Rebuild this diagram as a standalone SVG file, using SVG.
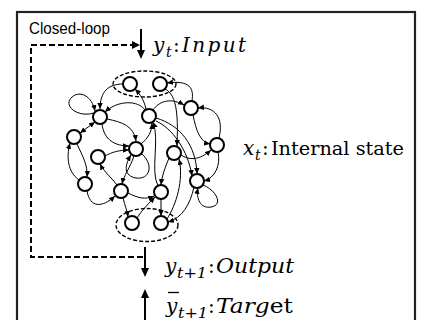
<svg xmlns="http://www.w3.org/2000/svg" width="422" height="320" viewBox="0 0 422 320">
<style>
.node circle{fill:#fff;stroke:#000;stroke-width:2}
.e path{fill:none;stroke:#000;stroke-width:1;marker-end:url(#ah)}
.math{font-family:"DejaVu Serif","Liberation Serif",serif;font-style:italic;fill:#000}
.up{font-family:"DejaVu Serif","Liberation Serif",serif;fill:#000}
.dash{fill:none;stroke:#000;stroke-width:2;stroke-dasharray:6,3}
.ell{fill:none;stroke:#000;stroke-width:1.4;stroke-dasharray:4,2}
</style>
<defs>
<marker id="ah" markerUnits="userSpaceOnUse" markerWidth="6" markerHeight="6" viewBox="0 0 6 6" refX="6" refY="3" orient="auto-start-reverse"><path d="M0,0.3 L6,3 L0,5.7 z" fill="#000"/></marker>
</defs>
<rect x="17" y="12" width="398" height="330" fill="#fff" stroke="#222" stroke-width="2.2"/>
<text x="29" y="34" font-family="Liberation Sans, Arial, sans-serif" font-size="16" textLength="81" lengthAdjust="spacingAndGlyphs">Closed-loop</text>

<g id="loop">
<path class="dash" d="M143,257 L31,257 L31,45 L133,45"/>
<path d="M132,41 L140,45 L132,49 z" fill="#000"/>
</g>
<g id="io-arrows">
<path d="M141,29 L141,52" stroke="#000" stroke-width="2"/><path d="M137,50 L145,50 L141,59 z" fill="#000"/>
<path d="M145,247 L145,270" stroke="#000" stroke-width="2"/><path d="M141,268 L149,268 L145,277 z" fill="#000"/>
<path d="M145,320 L145,296" stroke="#000" stroke-width="2"/><path d="M141,298 L149,298 L145,289 z" fill="#000"/>
</g>

<g id="ellipses">
<ellipse class="ell" cx="144.5" cy="84" rx="31.5" ry="13"/>
<ellipse class="ell" cx="147" cy="225" rx="31" ry="16.5"/>
</g>

<g id="connectors" class="e">
<path d="M123,84 C108,84 100,92 100,109"/>
<path d="M94,113 C78,118 62,106 72,97 C80,90 92,96 95,111"/>
<path d="M145,110 C138,100 118,100 105,112"/>
<path d="M95,122 L80,133" style="marker-start:url(#ah)"/>
<path d="M107,119 C122,122 134,126 136,141"/>
<path d="M102,124 C104,140 115,146 129,146"/>
<path d="M146,109 C144,100 140,94 135,89"/>
<path d="M192,101 C194,88 190,80 167,83"/>
<path d="M153,110 C160,100 172,98 184,105"/>
<path d="M193,115 C196,130 200,142 210,144"/>
<path d="M219,138 C224,118 215,106 198,108"/>
<path d="M165,89 C178,95 178,120 177,146"/>
<path d="M156,118 C180,125 196,145 197,174"/>
<path d="M156,121 C172,128 188,150 192,176"/>
<path d="M77,144 C82,155 88,165 87,177"/>
<path d="M79,180 C68,172 66,158 70,143"/>
<path d="M87,191 C90,208 102,208 115,196"/>
<path d="M117,185 C112,178 104,172 100,164"/>
<path d="M105,156 C112,152 120,150 129,150"/>
<path d="M142,154 C154,165 150,180 136,178 C124,176 124,166 131,155"/>
<path d="M134,156 C130,168 124,175 122,184"/>
<path d="M123,198 C125,206 127,210 128,217"/>
<path d="M128,193 C138,198 145,200 154,196"/>
<path d="M137,218 C142,210 148,204 155,197"/>
<path d="M161,199 L161,216"/>
<path d="M169,158 C165,168 162,175 161,185"/>
<path d="M167,219 C176,205 184,180 179,159"/>
<path d="M158,186 C150,170 160,140 153,122"/>
<path d="M141,144 C148,138 152,132 152,123"/>
<path d="M181,155 C192,162 202,158 211,150"/>
<path d="M218,152 C221,165 215,178 204,181"/>
<path d="M203,185 C216,190 224,205 211,207 C200,209 196,198 198,188"/>
<path d="M194,187 C190,205 182,218 168,222"/>
</g>

<g id="n1" class="node"><circle cx="130" cy="84" r="7"/></g>
<g id="n2" class="node"><circle cx="160" cy="84" r="7"/></g>
<g id="n3" class="node"><circle cx="100" cy="117" r="7"/></g>
<g id="n4" class="node"><circle cx="149" cy="116" r="7"/></g>
<g id="n5" class="node"><circle cx="191" cy="108" r="7"/></g>
<g id="n6" class="node"><circle cx="74" cy="137" r="7"/></g>
<g id="n7" class="node"><circle cx="136" cy="149" r="7"/></g>
<g id="n8" class="node"><circle cx="174" cy="153" r="7"/></g>
<g id="n9" class="node"><circle cx="98" cy="157" r="7"/></g>
<g id="n10" class="node"><circle cx="217" cy="145" r="7"/></g>
<g id="n11" class="node"><circle cx="85" cy="184" r="7"/></g>
<g id="n12" class="node"><circle cx="121" cy="191" r="7"/></g>
<g id="n13" class="node"><circle cx="161" cy="192" r="7"/></g>
<g id="n14" class="node"><circle cx="197" cy="181" r="7"/></g>
<g id="n15" class="node"><circle cx="132" cy="223" r="7"/></g>
<g id="n16" class="node"><circle cx="161" cy="223" r="7"/></g>

<g id="label-input">
<text class="math" x="153" y="52" font-size="20">y</text>
<text class="math" x="166" y="57" font-size="14">t</text>
<text class="up" x="173" y="52" font-size="20">:</text>
<text class="math" x="182" y="52" font-size="20" textLength="64" lengthAdjust="spacing">Input</text>
</g>
<g id="label-state">
<text class="math" x="243" y="155" font-size="20">x</text>
<text class="math" x="255" y="160" font-size="14">t</text>
<text class="up" x="262" y="155" font-size="20">:</text>
<text class="up" x="271" y="155" font-size="19" textLength="133" lengthAdjust="spacingAndGlyphs">Internal state</text>
</g>
<g id="label-output">
<text class="math" x="165" y="273" font-size="20">y</text>
<text class="math" x="177" y="278" font-size="14" textLength="30" lengthAdjust="spacingAndGlyphs">t+1</text>
<text class="up" x="208" y="273" font-size="20">:</text>
<text class="math" x="216" y="273" font-size="20" textLength="78" lengthAdjust="spacingAndGlyphs">Output</text>
</g>
<g id="label-target">
<text class="math" x="166" y="313" font-size="20">y</text>
<path d="M168,292.5 L179,292.5" stroke="#000" stroke-width="1.3"/>
<text class="math" x="178" y="318" font-size="14" textLength="30" lengthAdjust="spacingAndGlyphs">t+1</text>
<text class="up" x="208" y="313" font-size="20">:</text>
<text x="216" y="313" font-size="20" textLength="77" lengthAdjust="spacingAndGlyphs"><tspan class="math">Targ</tspan><tspan class="up">et</tspan></text>
</g>
</svg>
